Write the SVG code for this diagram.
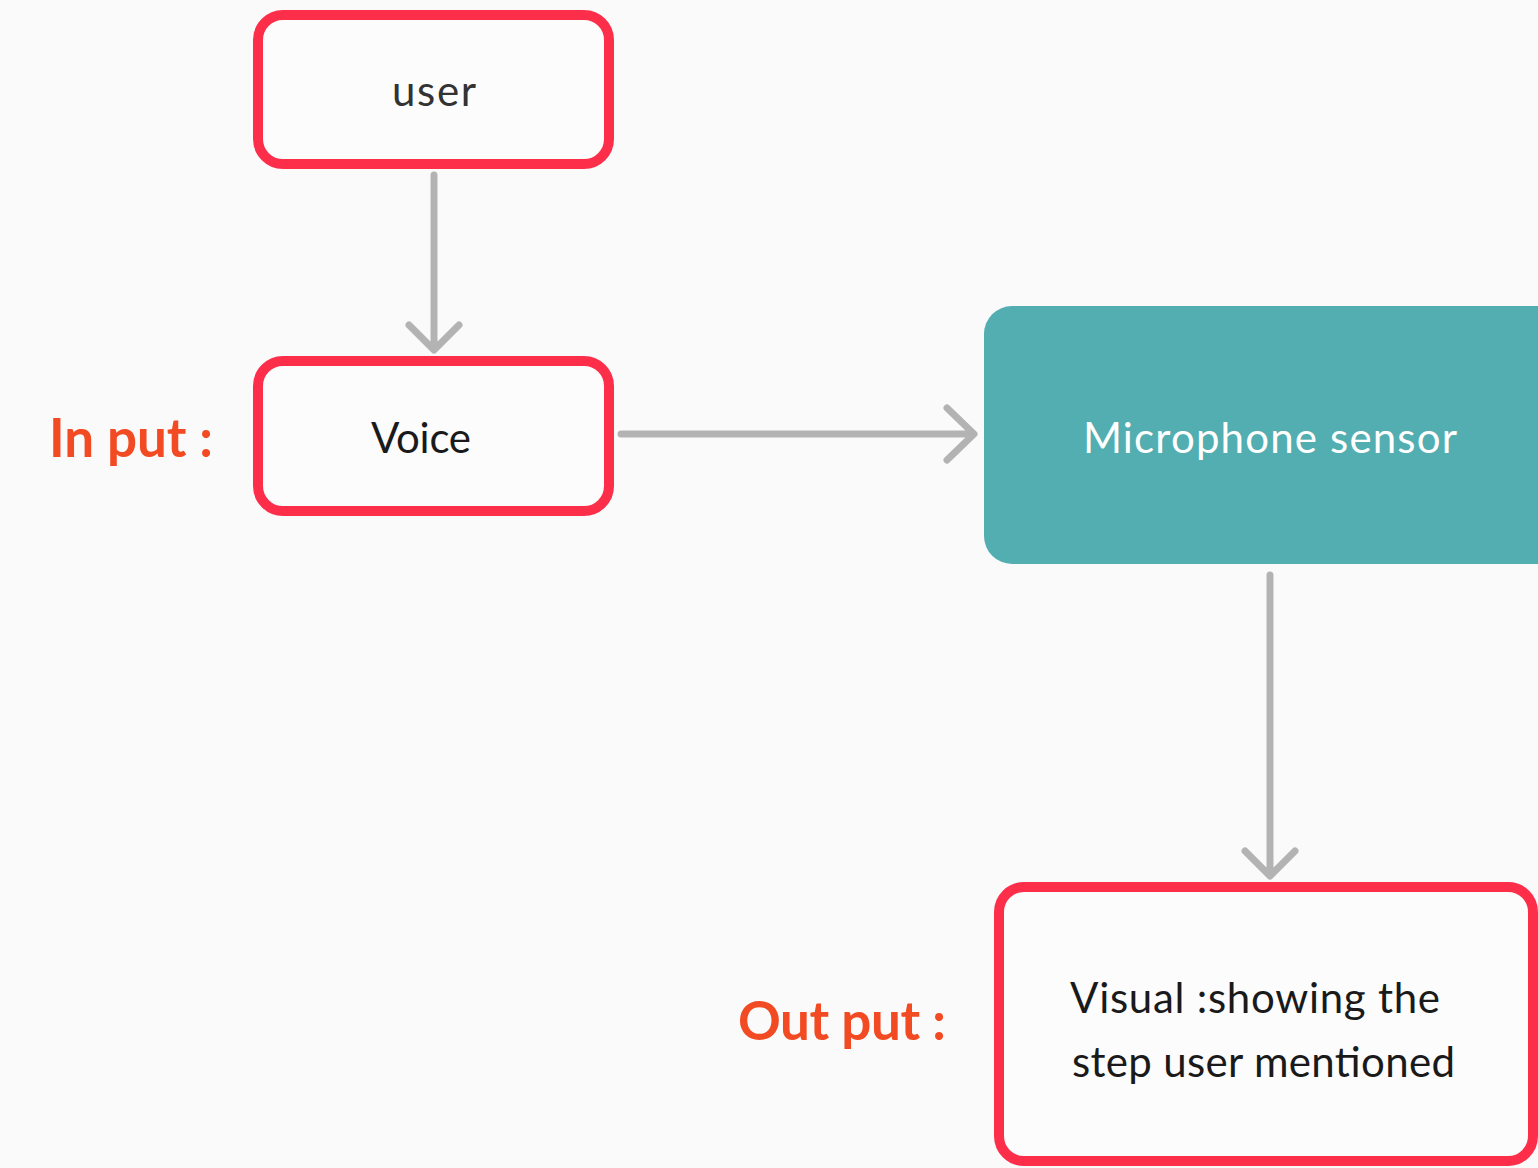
<svg xmlns="http://www.w3.org/2000/svg" width="1538" height="1168" viewBox="0 0 1538 1168">
  <style>
    .box { fill: #fcfcfc; stroke: #fc2e4a; stroke-width: 10; }
    .label { font-family: Lato, "Noto Sans", sans-serif; font-size: 42px; }
    .side { font-family: Lato, "Noto Sans", sans-serif; font-weight: bold; fill: #f24a22; font-size: 53px; }
    .conn { fill: none; stroke: #b3b3b3; stroke-width: 7; stroke-linecap: round; stroke-linejoin: round; }
  </style>
  <rect width="1538" height="1168" fill="#fafafa"/>

  <g id="node-user">
    <rect class="box" x="258" y="15" width="351" height="149" rx="25"/>
    <text class="label" x="392" y="106" textLength="84" fill="#333333">user</text>
  </g>

  <g id="node-voice">
    <rect class="box" x="258" y="361" width="351" height="150" rx="25"/>
    <text class="label" x="371" y="453" textLength="100" fill="#1a1a1a">Voice</text>
  </g>

  <g id="label-input">
    <text class="side" x="49" y="457" textLength="164">In put :</text>
  </g>

  <g id="node-microphone">
    <rect x="984" y="306" width="580" height="258" rx="28" fill="#52aeb1"/>
    <text class="label" x="1083" y="453" textLength="374" fill="#ffffff">Microphone sensor</text>
  </g>

  <g id="node-visual">
    <rect class="box" x="999" y="887" width="534" height="274" rx="25"/>
    <text class="label" fill="#1a1a1a">
      <tspan x="1070" y="1013" textLength="370">Visual :showing the</tspan>
      <tspan x="1072" y="1077" textLength="383">step user mentioned</tspan>
    </text>
  </g>

  <g id="label-output">
    <text class="side" x="738" y="1040" textLength="208">Out put :</text>
  </g>

  <g id="connectors">
    <path class="conn" d="M434 175 V349 M409 325 L434 350 L459 325"/>
    <path class="conn" d="M621 434 H973 M947 408 L974 434 L947 460"/>
    <path class="conn" d="M1270 575 V875 M1245 851 L1270 876 L1295 851"/>
  </g>
</svg>
